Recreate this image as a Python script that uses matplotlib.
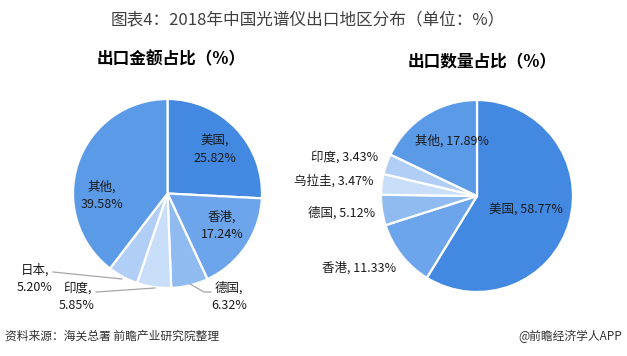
import matplotlib
matplotlib.use('Agg')
import matplotlib.pyplot as plt

plt.rcParams['font.family'] = ['Noto Sans CJK SC', 'DejaVu Sans']

# export value share
value_labels = ['美国', '香港', '德国', '印度', '日本', '其他']
value_shares = [25.82, 17.24, 6.32, 5.85, 5.20, 39.58]
value_colors = ['#4389E1', '#6CA5EB', '#90BBF1', '#C9DEF9', '#B1CFF6', '#5A9AE6']

# export quantity share
qty_labels = ['美国', '香港', '德国', '乌拉圭', '印度', '其他']
qty_shares = [58.77, 11.33, 5.12, 3.47, 3.43, 17.89]
qty_colors = ['#4389E1', '#6CA5EB', '#90BBF1', '#C9DEF9', '#B1CFF6', '#5A9AE6']

W, H = 627, 356
fig = plt.figure(figsize=(W / 100, H / 100), dpi=100)
ax = fig.add_axes([0, 0, 1, 1])

# pixel coords with y pointing down -> start at -90 and go "counterclock" in data
# space, which reads as clockwise from 12 o'clock on screen
ax.pie(value_shares, colors=value_colors, startangle=-90, counterclock=True,
       center=(167.5, 193.5), radius=94.5,
       wedgeprops=dict(edgecolor='white', linewidth=1.6))
ax.pie(qty_shares, colors=qty_colors, startangle=-90, counterclock=True,
       center=(477, 196), radius=96,
       wedgeprops=dict(edgecolor='white', linewidth=1.6))
ax.set_xlim(0, W)
ax.set_ylim(H, 0)
ax.set_aspect('equal')
ax.axis('off')

fs = 9
# left pie labels (two lines)
left_pos = {'美国': (215, 150), '香港': (222, 226), '其他': (102, 196),
            '日本': (35, 279), '印度': (77, 297), '德国': (229, 297)}
for lab, v in zip(value_labels, value_shares):
    x, y = left_pos[lab]
    ax.text(x, y, f'{lab},\n{v:.2f}%', ha='center', va='center', fontsize=fs,
            linespacing=1.45, color='#1a1a1a')

# leader lines for the small slices
lines = [[(53, 272), (122, 279)],
         [(96, 292), (155, 288)],
         [(190, 284), (204, 292), (211, 292)]]
for pts in lines:
    ax.plot([p[0] for p in pts], [p[1] for p in pts], color='#A6A6A6', lw=0.9)

# right pie labels (one line)
right_pos = {'美国': (526, 210), '香港': (359, 268), '德国': (342, 213),
             '乌拉圭': (334, 181), '印度': (345, 157), '其他': (452, 141)}
for lab, v in zip(qty_labels, qty_shares):
    x, y = right_pos[lab]
    ax.text(x, y, f'{lab}, {v:.2f}%', ha='center', va='center', fontsize=fs,
            color='#1a1a1a')

ax.text(307.5, 21, '图表4：2018年中国光谱仪出口地区分布（单位：%）', ha='center', va='center',
        fontsize=12, color='#404040')
ax.text(171, 59, '出口金额占比（%）', ha='center', va='center', fontsize=12,
        fontweight='bold', color='black')
ax.text(482, 62, '出口数量占比（%）', ha='center', va='center', fontsize=12,
        fontweight='bold', color='black')

ax.text(5, 336, '资料来源：海关总署 前瞻产业研究院整理', ha='left', va='center',
        fontsize=8.5, style='italic', color='#333333')
ax.text(622, 336, '@前瞻经济学人APP', ha='right', va='center', fontsize=8.5,
        color='#333333')

fig.savefig('out.png', dpi=100)
